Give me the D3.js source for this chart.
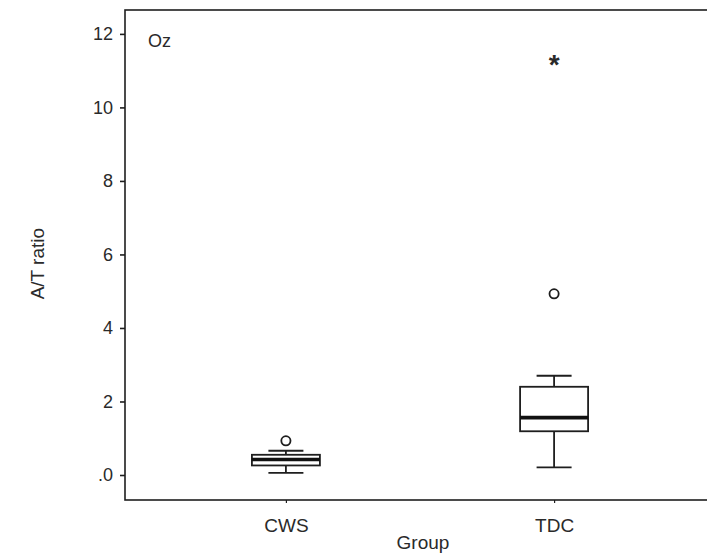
<!DOCTYPE html>
<html lang="en">
<head>
  <meta charset="UTF-8" />
  <title>A/T ratio boxplot</title>
  <script src="https://d3js.org/d3.v7.min.js" charset="utf-8"></script>
  <style>
    body { margin: 0; background: #fff; }
    text { font-family: "Liberation Sans", Arial, sans-serif; fill: #2a2a2a; }
  </style>
</head>
<body>
<script type="text/javascript">

const WIDTH = 707;
const HEIGHT = 555;

// box summary per group
const groups = ["CWS", "TDC"];
const whiskerLow = [0.06, 0.21];
const q1 = [0.26, 1.19];
const median = [0.42, 1.56];
const q3 = [0.55, 2.40];
const whiskerHigh = [0.66, 2.70];

// outliers (circle = outlier, star = extreme)
const outlierGroup = ["CWS", "TDC", "TDC"];
const outlierValue = [0.93, 4.93, 11.22];
const outlierKind = ["circle", "circle", "star"];

const yTicks = [0, 2, 4, 6, 8, 10, 12];

var svg = d3.select("body")
    .append("svg")
        .attr("width", WIDTH)
        .attr("height", HEIGHT);

const plotLeft = 125, plotTop = 10, plotBottom = 500, plotRight = 715;

const yScale = d3.scaleLinear()
    .domain([-0.68, 12.65])
    .range([plotBottom, plotTop]);

const xScale = d3.scalePoint()
    .domain(groups)
    .range([plotLeft, plotRight])
    .padding(0.6);

// frame (right edge falls outside the window)
svg.append("rect")
    .attr("x", plotLeft)
    .attr("y", plotTop)
    .attr("width", plotRight - plotLeft)
    .attr("height", plotBottom - plotTop)
    .attr("fill", "none")
    .attr("stroke", "#1e1e1e")
    .attr("stroke-width", 1.6);

// y axis
svg.append("g")
    .attr("transform", `translate(${plotLeft}, 0)`)
    .call(
        d3.axisLeft(yScale)
            .tickValues(yTicks)
            .tickSize(5)
            .tickPadding(7)
            .tickFormat(d => d === 0 ? ".0" : d)
    )
    .call(g => g.select(".domain").remove())
    .call(g => g.selectAll(".tick line")
        .attr("stroke", "#1e1e1e")
        .attr("stroke-width", 1.6))
    .call(g => g.selectAll(".tick text")
        .attr("font-size", 18)
        .attr("fill", "#2a2a2a")
        .attr("font-family", "Liberation Sans, Arial, sans-serif"));

// x axis
svg.append("g")
    .attr("transform", `translate(0, ${plotBottom})`)
    .call(
        d3.axisBottom(xScale)
            .tickSize(3)
            .tickPadding(16)
    )
    .call(g => g.select(".domain").remove())
    .call(g => g.selectAll(".tick line")
        .attr("stroke", "#1e1e1e")
        .attr("stroke-width", 1.2))
    .call(g => g.selectAll(".tick text")
        .attr("font-size", 19)
        .attr("fill", "#2a2a2a")
        .attr("font-family", "Liberation Sans, Arial, sans-serif"));

// axis titles
svg.append("text")
    .attr("transform", `translate(44, ${yScale(5.75)}) rotate(-90)`)
    .attr("text-anchor", "middle")
    .attr("font-size", 19)
    .text("A/T ratio");

svg.append("text")
    .attr("x", (xScale("CWS") + xScale("TDC")) / 2 + 3)
    .attr("y", 549)
    .attr("text-anchor", "middle")
    .attr("font-size", 19)
    .text("Group");

svg.append("text")
    .attr("x", 148)
    .attr("y", 47)
    .attr("font-size", 18)
    .text("Oz");

// boxes
const boxW = 68, capW = 35;
const boxes = groups.map((g, i) => ({
    g: g, lo: whiskerLow[i], q1: q1[i], med: median[i], q3: q3[i], hi: whiskerHigh[i]
}));

const bg = svg.append("g").selectAll("g")
    .data(boxes)
    .enter().append("g")
        .attr("stroke", "#1e1e1e")
        .attr("fill", "none");

// whisker stems
bg.append("line")
    .attr("x1", d => xScale(d.g)).attr("x2", d => xScale(d.g))
    .attr("y1", d => yScale(d.lo)).attr("y2", d => yScale(d.q1))
    .attr("stroke-width", 1.8);
bg.append("line")
    .attr("x1", d => xScale(d.g)).attr("x2", d => xScale(d.g))
    .attr("y1", d => yScale(d.q3)).attr("y2", d => yScale(d.hi))
    .attr("stroke-width", 1.8);
// caps
bg.append("line")
    .attr("x1", d => xScale(d.g) - capW / 2).attr("x2", d => xScale(d.g) + capW / 2)
    .attr("y1", d => yScale(d.lo)).attr("y2", d => yScale(d.lo))
    .attr("stroke-width", 1.8);
bg.append("line")
    .attr("x1", d => xScale(d.g) - capW / 2).attr("x2", d => xScale(d.g) + capW / 2)
    .attr("y1", d => yScale(d.hi)).attr("y2", d => yScale(d.hi))
    .attr("stroke-width", 1.8);
// box
bg.append("rect")
    .attr("x", d => xScale(d.g) - boxW / 2)
    .attr("y", d => yScale(d.q3))
    .attr("width", boxW)
    .attr("height", d => yScale(d.q1) - yScale(d.q3))
    .attr("fill", "#fff")
    .attr("stroke-width", 1.8);
// median
bg.append("line")
    .attr("x1", d => xScale(d.g) - boxW / 2).attr("x2", d => xScale(d.g) + boxW / 2)
    .attr("y1", d => yScale(d.med)).attr("y2", d => yScale(d.med))
    .attr("stroke-width", 3.6)
    .attr("stroke", "#111");

// outliers
const outliers = outlierValue.map((v, i) => ({ g: outlierGroup[i], v: v, kind: outlierKind[i] }));

svg.selectAll(".out")
    .data(outliers.filter(d => d.kind === "circle"))
    .enter().append("circle")
        .attr("class", "out")
        .attr("cx", d => xScale(d.g))
        .attr("cy", d => yScale(d.v))
        .attr("r", 4.6)
        .attr("fill", "#fff")
        .attr("stroke", "#1e1e1e")
        .attr("stroke-width", 1.8);

svg.selectAll(".extreme")
    .data(outliers.filter(d => d.kind === "star"))
    .enter().append("text")
        .attr("class", "extreme")
        .attr("x", d => xScale(d.g))
        .attr("y", d => yScale(d.v) + 11)
        .attr("text-anchor", "middle")
        .attr("font-size", 28)
        .attr("font-weight", "bold")
        .attr("fill", "#1e1e1e")
        .text("*");

</script>
</body>
</html>
